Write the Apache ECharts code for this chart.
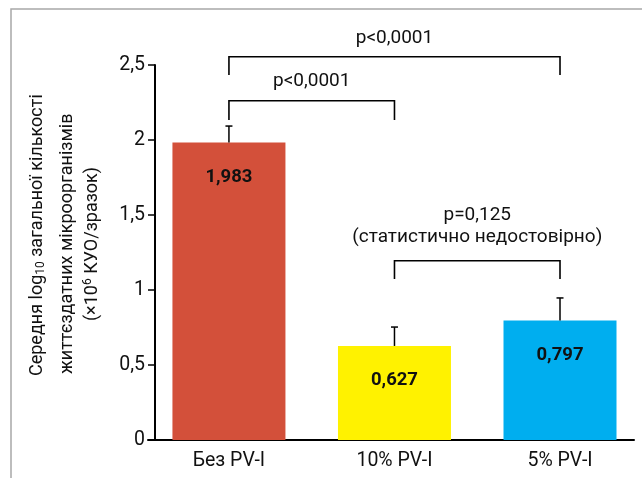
<!DOCTYPE html>
<html>
<head>
<meta charset="utf-8">
<script src="https://cdn.jsdelivr.net/npm/echarts@6/dist/echarts.min.js"></script>
<style>
html,body{margin:0;padding:0;background:#fff;}
#chart{width:642px;height:478px;}
</style>
</head>
<body>
<div id="chart"></div>
<script>
// ---- data ----
var categories = ['Без PV-I', '10% PV-I', '5% PV-I'];
var means = [1.983, 0.627, 0.797];
var errors = [0.11, 0.126, 0.15];
var barColors = ['#D3503A', '#FFF200', '#00AEEF'];
var yTicks = [0, 0.5, 1, 1.5, 2, 2.5];
// significance brackets
var bracketFrom = [0, 0, 1];
var bracketTo = [1, 2, 2];
var bracketTop = [2.262, 2.555, 1.195];
var bracketLeg = [2.133, 2.433, 1.073];
var bracketText = ['p<0,0001', 'p<0,0001', 'p=0,125\n(статистично недостовірно)'];

var FONT = 'Roboto';

var barData = means.map(function (v, i) {
  return { value: [i, v], itemStyle: { color: barColors[i] } };
});
var errData = means.map(function (v, i) { return [i, v, errors[i]]; });
var brData = bracketFrom.map(function (f, i) { return [f, bracketTo[i], bracketTop[i], bracketLeg[i], i]; });

var chart = echarts.init(document.getElementById('chart'), null, { renderer: 'canvas' });
chart.setOption({
  animation: false,
  backgroundColor: '#fff',
  grid: { left: 148, right: 8, top: 65, bottom: 38, containLabel: false },
  xAxis: {
    type: 'value',
    min: -0.489,
    max: 2.447,
    splitLine: { show: false },
    axisTick: { show: false },
    axisLine: { show: true, lineStyle: { color: '#000', width: 2 } },
    axisLabel: {
      customValues: [0, 1, 2],
      formatter: function (v) { return categories[Math.round(v)]; },
      color: '#111', fontFamily: FONT, fontSize: 19.5, margin: 11
    }
  },
  yAxis: {
    type: 'value',
    min: 0, max: 2.5, interval: 0.5,
    offset: -7,
    splitLine: { show: false },
    axisLine: { show: true, onZero: false, lineStyle: { color: '#000', width: 2 } },
    axisTick: { show: true, length: 7, lineStyle: { color: '#000', width: 1.5 } },
    axisLabel: {
      color: '#111', fontFamily: FONT, fontSize: 19.5, margin: 10,
      formatter: function (v) { return String(v).replace('.', ','); }
    }
  },
  series: [
    {
      type: 'bar',
      data: barData,
      barWidth: 113,
      label: {
        show: true, position: 'insideTop', distance: 25,
        fontFamily: FONT, fontSize: 18.5, fontWeight: 'bold', color: '#111',
        formatter: function (p) { return String(p.value[1]).replace('.', ','); }
      },
      z: 2
    },
    {
      type: 'custom',
      data: errData,
      z: 3,
      clip: false,
      renderItem: function (params, api) {
        var base = api.coord([api.value(0), api.value(1)]);
        var top = api.coord([api.value(0), api.value(1) + api.value(2)]);
        var st = { stroke: '#000', lineWidth: 1.5 };
        return {
          type: 'group',
          children: [
            { type: 'line', shape: { x1: base[0], y1: base[1], x2: top[0], y2: top[1] }, style: st },
            { type: 'line', shape: { x1: top[0] - 3.5, y1: top[1], x2: top[0] + 3.5, y2: top[1] }, style: st }
          ]
        };
      }
    },
    {
      type: 'custom',
      data: brData,
      z: 4,
      clip: false,
      renderItem: function (params, api) {
        var a = api.coord([api.value(0), api.value(2)]);
        var b = api.coord([api.value(1), api.value(2)]);
        var aLeg = api.coord([api.value(0), api.value(3)]);
        var bLeg = api.coord([api.value(1), api.value(3)]);
        var txt = bracketText[api.value(4)];
        var gap = txt.indexOf('\n') >= 0 ? 13 : 8;
        return {
          type: 'group',
          children: [
            { type: 'polyline', shape: { points: [[aLeg[0], aLeg[1]], [a[0], a[1]], [b[0], b[1]], [bLeg[0], bLeg[1]]] },
              style: { stroke: '#000', lineWidth: 1.6, fill: null } },
            { type: 'text', x: (a[0] + b[0]) / 2, y: a[1] - gap,
              style: { text: txt, fontFamily: FONT, fontSize: 19, fill: '#111',
                       align: 'center', verticalAlign: 'bottom', lineHeight: 22 } }
          ]
        };
      }
    }
  ],
  graphic: [
    { type: 'polyline', shape: { points: [[11, 478], [11, 9], [642, 9]] },
      style: { stroke: '#a8a8a8', lineWidth: 1.5, fill: null } },
    { type: 'text', x: 37, y: 376, rotation: Math.PI / 2,
      style: { text: 'Середня log{sub|10} загальної кількості', fontFamily: FONT, fontSize: 18, fill: '#111',
               align: 'left', verticalAlign: 'middle',
               rich: { sub: { fontSize: 12, fontFamily: FONT, fill: '#111', padding: [8, 0, 0, 0] } } } },
    { type: 'text', x: 67, y: 374, rotation: Math.PI / 2,
      style: { text: 'життєздатних мікроорганізмів', fontFamily: FONT, fontSize: 18, fill: '#111',
               align: 'left', verticalAlign: 'middle' } },
    { type: 'text', x: 92, y: 244, rotation: Math.PI / 2,
      style: { text: '(×10{sup|6} КУО/зразок)', fontFamily: FONT, fontSize: 18, fill: '#111',
               align: 'center', verticalAlign: 'middle',
               rich: { sup: { fontSize: 12, fontFamily: FONT, fill: '#111', padding: [0, 0, 8, 0] } } } }
  ]
});
</script>
</body>
</html>
